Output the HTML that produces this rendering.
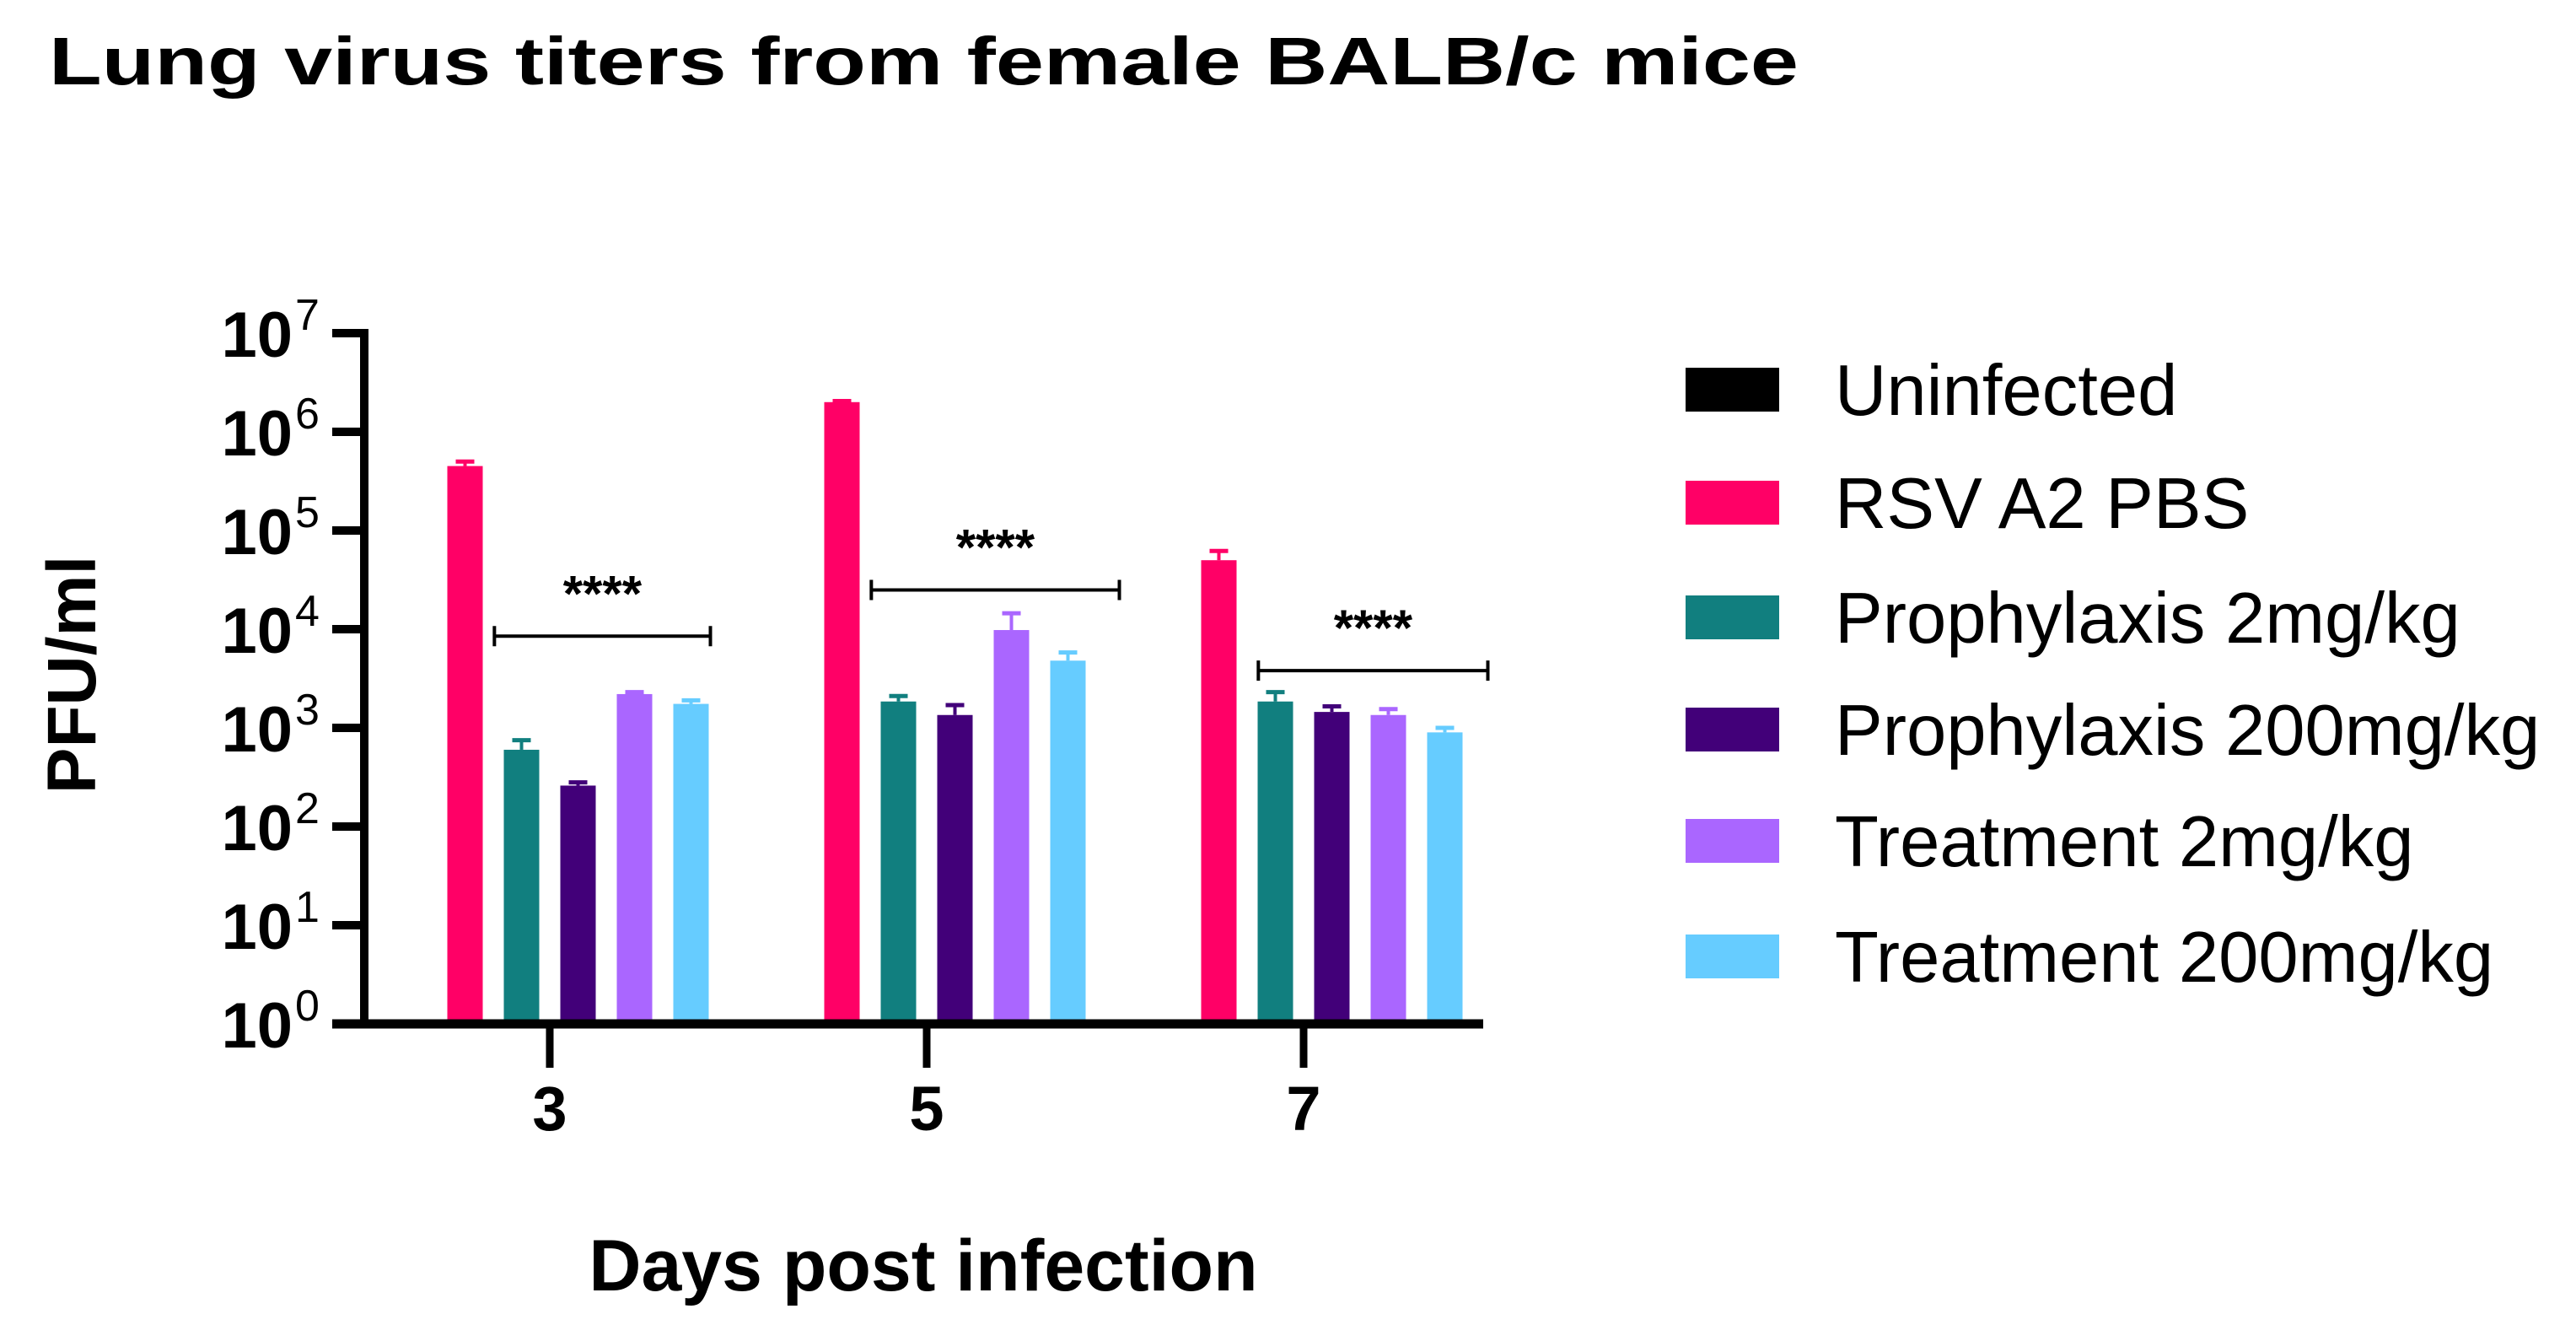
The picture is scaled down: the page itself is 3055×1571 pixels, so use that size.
<!DOCTYPE html>
<html><head><meta charset="utf-8"><style>
html,body{margin:0;padding:0;background:#fff;}
svg{display:block;font-family:"Liberation Sans",Arial,sans-serif;}
</style></head><body>
<svg id="chart" width="3055" height="1571" viewBox="0 0 3055 1571" xmlns="http://www.w3.org/2000/svg">
<text x="58" y="100" font-size="80" font-weight="bold" textLength="2075" lengthAdjust="spacingAndGlyphs">Lung virus titers from female BALB/c mice</text>
<text transform="translate(113,800) rotate(-90)" text-anchor="middle" font-size="82" font-weight="bold">PFU/ml</text>
<text x="1095" y="1530" text-anchor="middle" font-size="86" font-weight="bold">Days post infection</text>
<g id="plot"></g>
<g id="legend"></g>
</svg>
<script>
const days = ["3","5","7"];
const seriesNames = ["Uninfected","RSV A2 PBS","Prophylaxis 2mg/kg","Prophylaxis 200mg/kg","Treatment 2mg/kg","Treatment 200mg/kg"];
const seriesColors = ["#000000","#ff0066","#117f7f","#420079","#aa66ff","#66ccff"];
const uninfected = [0,0,0];
const rsvPbs = [450000,2000000,50000];
const proph2 = [600,1850,1850];
const proph200 = [260,1350,1450];
const treat2 = [2200,9800,1350];
const treat200 = [1750,4800,900];
const errUninfected = [0,0,0];
const errRsvPbs = [500000,2050000,62000];
const errProph2 = [750,2100,2300];
const errProph200 = [280,1700,1650];
const errTreat2 = [2300,14500,1550];
const errTreat200 = [1900,5800,1000];
const yTickExp = [0,1,2,3,4,5,6,7];
const sigBracketY = [8500,25000,3800];
const sigLabel = ["****","****","****"];

const values = [uninfected,rsvPbs,proph2,proph200,treat2,treat200];
const errs = [errUninfected,errRsvPbs,errProph2,errProph200,errTreat2,errTreat200];
const NS="http://www.w3.org/2000/svg";
const plot=document.getElementById('plot');
const axL=432, axR=1759, yTop=395, yBot=1214;
function y(v){ if(v<=1) return yBot; return yBot-(Math.log10(v)/7)*(yBot-yTop); }
const groupCenter0=652, groupStep=447, slot=67, barW=42;
function gx(g){ return groupCenter0+g*groupStep; }
function bx(g,s){ return gx(g)+(s-2.5)*slot; }
function mk(tag,attrs,parent){ const e=document.createElementNS(NS,tag); for(const k in attrs) e.setAttribute(k,attrs[k]); (parent||plot).appendChild(e); return e; }

for(let s=0;s<values.length;s++){
  for(let g=0;g<days.length;g++){
    const v=values[s][g]; if(v<=1) continue;
    const cx=bx(g,s), top=y(v), et=y(errs[s][g]);
    const ln=mk('line',{x1:cx,x2:cx,y1:top,y2:et,stroke:seriesColors[s],'stroke-width':4});
    
    
    const cap=mk('line',{x1:cx-11,x2:cx+11,y1:et,y2:et,stroke:seriesColors[s],'stroke-width':5});
    
    
    const r=mk('rect',{x:cx-barW/2,y:top,width:barW,height:yBot-top,fill:seriesColors[s]});
    
    
  }
}
const ya=mk('line',{x1:axL,x2:axL,y1:yTop-5,y2:yBot+5,stroke:'#000','stroke-width':10});


const xa=mk('line',{x1:axL-38,x2:axR,y1:yBot,y2:yBot,stroke:'#000','stroke-width':11});


for(const e of yTickExp){
  const yy=y(Math.pow(10,e));
  const t=mk('line',{x1:axL-38,x2:axL,y1:yy,y2:yy,stroke:'#000','stroke-width':10});
  
  
  const tx=mk('text',{x:347,y:yy+28,'text-anchor':'end','font-size':76,'font-weight':'bold'});
  tx.textContent='10';
  
  
  const sup=mk('text',{x:350,y:yy-4,'font-size':52,'font-weight':'normal'});
  sup.textContent=String(e);
  
  
}
for(let g=0;g<days.length;g++){
  const t=mk('line',{x1:gx(g),x2:gx(g),y1:yBot,y2:yBot+52,stroke:'#000','stroke-width':9});
  
  
  const tx=mk('text',{x:gx(g),y:1340,'text-anchor':'middle','font-size':74,'font-weight':'bold'});
  tx.textContent=days[g];
  
  
  let x1=bx(g,1)+(slot*0.52), x2=bx(g,5)+barW/2+2;
  if(g===1) x2+=38;
  if(g===2){ x1+=12; x2+=28; }
  const by=y(sigBracketY[g]);
  const b=mk('path',{d:`M${x1} ${by-12}V${by+12}M${x1} ${by}H${x2}M${x2} ${by-12}V${by+12}`,stroke:'#000','stroke-width':4,fill:'none'});
  
  
  const st=mk('text',{x:(x1+x2)/2,y:by-30,'text-anchor':'middle','font-size':60,'font-weight':'bold'});
  st.textContent=sigLabel[g];
  
  
}
const lg=document.getElementById('legend');
const legY=[462,596,732,865,997,1134];
for(let s=0;s<seriesNames.length;s++){
  const g=mk('g',{},lg);
  
  
  mk('rect',{x:1999,y:legY[s]-26,width:111,height:52,fill:seriesColors[s]},g);
  const t=mk('text',{x:2176,y:legY[s]+30,'font-size':85},g);
  t.textContent=seriesNames[s];
}
</script>
</body></html>
